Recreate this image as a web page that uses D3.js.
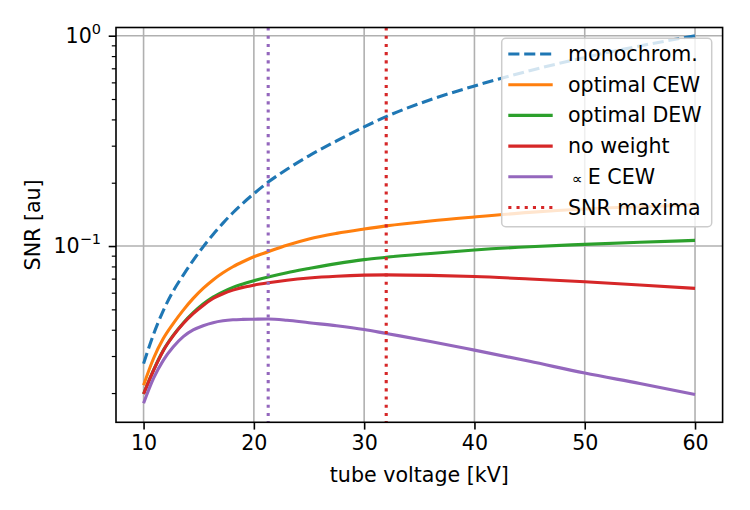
<!DOCTYPE html>
<html>
<head>
<meta charset="utf-8">
<script src="https://cdn.jsdelivr.net/npm/d3@7"></script>
<style>
  body { margin: 0; background: #fff; }
  text { font-family: "DejaVu Sans", sans-serif; fill: #000; }
</style>
</head>
<body>
<div id="chart"></div>
<script>
const kv = [10, 10.9, 11.8, 12.7, 13.6, 14.5, 15.4, 16.3, 17.2, 18.1, 19, 20, 21.3, 23, 25, 27.5, 30, 32, 36, 40, 45, 50, 55, 60];

const monochrom  = [0.0276, 0.038, 0.0495, 0.0612, 0.0728, 0.0855, 0.0991, 0.1135, 0.1285, 0.144, 0.1596, 0.1774, 0.2014, 0.2317, 0.2685, 0.316, 0.3684, 0.4125, 0.496, 0.577, 0.682, 0.788, 0.894, 1.0];
const optimalCEW = [0.0218, 0.0292, 0.0364, 0.0429, 0.0496, 0.0564, 0.0629, 0.069, 0.0746, 0.0797, 0.0842, 0.0889, 0.094, 0.1009, 0.1081, 0.1149, 0.1205, 0.1247, 0.1316, 0.1375, 0.1445, 0.150, 0.1538, 0.157];
const optimalDEW = [0.0198, 0.0257, 0.032, 0.0377, 0.0431, 0.0482, 0.053, 0.0572, 0.0606, 0.0636, 0.066, 0.0684, 0.0713, 0.0747, 0.0782, 0.0825, 0.0862, 0.0884, 0.0922, 0.0958, 0.0993, 0.1018, 0.1042, 0.1064];
const noWeight   = [0.0198, 0.0256, 0.0319, 0.0375, 0.0428, 0.0477, 0.0522, 0.0563, 0.0593, 0.0617, 0.0636, 0.0652, 0.0669, 0.0688, 0.0705, 0.0719, 0.0727, 0.0729, 0.0725, 0.0716, 0.0697, 0.0676, 0.0653, 0.0629];
const propECEW   = [0.0179, 0.0235, 0.0287, 0.0332, 0.0371, 0.0399, 0.0418, 0.0432, 0.0441, 0.0446, 0.0448, 0.0449, 0.045, 0.0444, 0.0432, 0.0418, 0.0401, 0.0384, 0.0352, 0.032, 0.0283, 0.0249, 0.0222, 0.0197];

// positions of the SNR maxima (purple = prop E CEW, red = no weight)
const maximaKv = [21.3, 32];

const xTicks = [10, 20, 30, 40, 50, 60];
const yMajor = [0.1, 1];
const yMinor = [0.02, 0.03, 0.04, 0.05, 0.06, 0.07, 0.08, 0.09, 0.2, 0.3, 0.4, 0.5, 0.6, 0.7, 0.8, 0.9];

const series = [
  { label: "monochrom.", values: monochrom, color: "#1f77b4", dash: "11.1,4.8" },
  { label: "optimal CEW", values: optimalCEW, color: "#ff7f0e", dash: null },
  { label: "optimal DEW", values: optimalDEW, color: "#2ca02c", dash: null },
  { label: "no weight", values: noWeight, color: "#d62728", dash: null },
  { label: "∝E CEW", values: propECEW, color: "#9467bd", dash: null }
];
const maximaColors = ["#9467bd", "#d62728"];

const W = 750, H = 510;
const pLeft = 116, pRight = 722.6, pTop = 27.5, pBottom = 422.3;
const lw = 3.1;
const fs = 20.6;

const svg = d3.select("#chart")
  .append("svg")
  .attr("width", W)
  .attr("height", H);

const x = d3.scaleLinear().domain([7.5, 62.5]).range([pLeft, pRight]);
const y = d3.scaleLog().domain([Math.pow(10, -1.838), Math.pow(10, 0.039)]).range([pBottom, pTop]);

// grid
svg.append("g")
  .selectAll("line")
  .data(xTicks)
  .enter().append("line")
  .attr("x1", d => x(d)).attr("x2", d => x(d))
  .attr("y1", pTop).attr("y2", pBottom)
  .attr("stroke", "#b0b0b0")
  .attr("stroke-width", 1.6);

svg.append("g")
  .selectAll("line")
  .data(yMajor)
  .enter().append("line")
  .attr("x1", pLeft).attr("x2", pRight)
  .attr("y1", d => y(d)).attr("y2", d => y(d))
  .attr("stroke", "#b0b0b0")
  .attr("stroke-width", 1.6);

// curves
const line = d3.line()
  .x((d, i) => x(kv[i]))
  .y(d => y(d))
  .curve(d3.curveMonotoneX);

series.forEach(s => {
  svg.append("path")
    .datum(s.values)
    .attr("d", line)
    .attr("fill", "none")
    .attr("stroke", s.color)
    .attr("stroke-width", lw)
    .attr("stroke-dasharray", s.dash);
});

// maxima markers
svg.append("g")
  .selectAll("line")
  .data(maximaKv)
  .enter().append("line")
  .attr("x1", d => x(d)).attr("x2", d => x(d))
  .attr("y1", pTop).attr("y2", pBottom)
  .attr("stroke", (d, i) => maximaColors[i])
  .attr("stroke-width", lw)
  .attr("stroke-dasharray", "3.1,5.1");

// axes
const xAxis = d3.axisBottom(x).tickValues(xTicks).tickSize(7.3).tickPadding(6).tickFormat(d3.format("d"));
const gx = svg.append("g")
  .attr("transform", "translate(0," + pBottom + ")")
  .call(xAxis);
gx.select(".domain").remove();
gx.selectAll("line").attr("stroke-width", 1.6);
gx.selectAll("text").attr("font-size", fs).style("font-family", "DejaVu Sans");

const gy = svg.append("g")
  .attr("transform", "translate(" + pLeft + ",0)")
  .call(d3.axisLeft(y).tickValues(yMajor).tickSize(7.3).tickFormat(""));
gy.select(".domain").remove();
gy.selectAll("line").attr("stroke-width", 1.6);

const gyMinor = svg.append("g")
  .attr("transform", "translate(" + pLeft + ",0)")
  .call(d3.axisLeft(y).tickValues(yMinor).tickSize(4.2).tickFormat(""));
gyMinor.select(".domain").remove();
gyMinor.selectAll("line").attr("stroke-width", 1.2);

// y tick labels as 10^n
yMajor.forEach(v => {
  const e = Math.round(Math.log10(v));
  const t = svg.append("text")
    .attr("x", pLeft - 15)
    .attr("y", y(v) + 7)
    .attr("text-anchor", "end")
    .attr("font-size", fs);
  t.append("tspan").text("10");
  t.append("tspan")
    .attr("dy", -9)
    .attr("font-size", 14.5)
    .text(e < 0 ? "\u2212" + (-e) : e);
});

// frame
svg.append("rect")
  .attr("x", pLeft).attr("y", pTop)
  .attr("width", pRight - pLeft).attr("height", pBottom - pTop)
  .attr("fill", "none")
  .attr("stroke", "#000")
  .attr("stroke-width", 1.6);

// axis labels
svg.append("text")
  .attr("x", (pLeft + pRight) / 2)
  .attr("y", 482)
  .attr("text-anchor", "middle")
  .attr("font-size", fs)
  .text("tube voltage [kV]");

svg.append("text")
  .attr("transform", "translate(40," + ((pTop + pBottom) / 2) + ") rotate(-90)")
  .attr("text-anchor", "middle")
  .attr("font-size", fs)
  .text("SNR [au]");

// legend
const lg = svg.append("g");
lg.append("rect")
  .attr("x", 501.7).attr("y", 38.3)
  .attr("width", 210).attr("height", 188.4)
  .attr("rx", 4)
  .attr("fill", "#fff")
  .attr("fill-opacity", 0.8)
  .attr("stroke", "#cccccc")
  .attr("stroke-width", 1.5);

const legendItems = series.map(s => ({ label: s.label, color: s.color, dash: s.dash }))
  .concat([{ label: "SNR maxima", color: "#d62728", dash: "3.1,5.1" }]);

legendItems.forEach((d, i) => {
  const ry = 54 + i * 30.7;
  lg.append("line")
    .attr("x1", 508.3).attr("x2", 552.7)
    .attr("y1", ry).attr("y2", ry)
    .attr("stroke", d.color)
    .attr("stroke-width", lw)
    .attr("stroke-dasharray", d.dash);
  const t = lg.append("text")
    .attr("x", 568)
    .attr("y", ry + 7)
    .attr("font-size", fs);
  if (d.label.startsWith("∝")) {
    t.append("tspan").attr("dx", 4).attr("font-size", 15).text("∝");
    t.append("tspan").attr("dx", 5).text(d.label.slice(1));
  } else {
    t.text(d.label);
  }
});
</script>
</body>
</html>
